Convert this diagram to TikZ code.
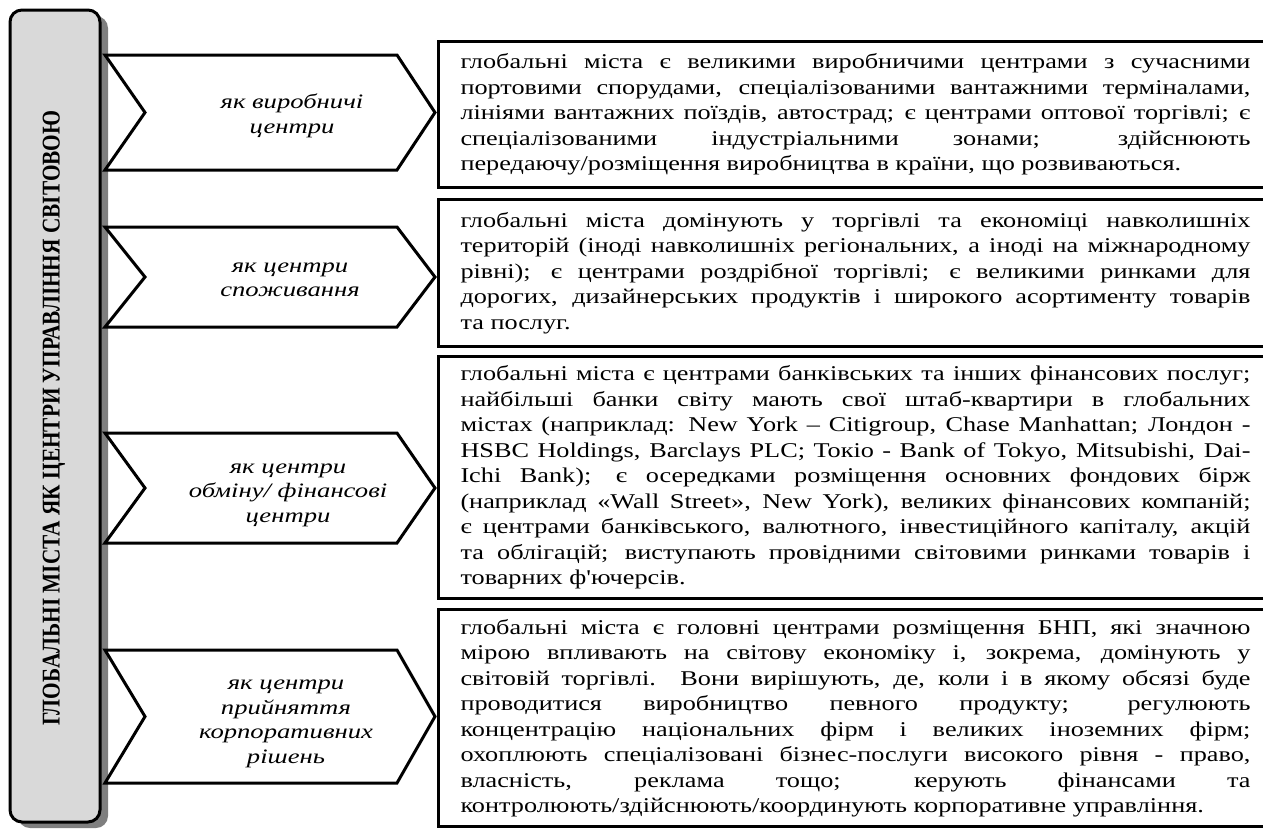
\documentclass[tikz,border=0pt]{standalone}
\usepackage{fontspec}
\setmainfont{Liberation Serif}
\newfontfamily\boxfont[FakeStretch=1.25]{Liberation Serif}
\newfontfamily\chevfont[FakeStretch=1.3]{Liberation Serif}
\usetikzlibrary {positioning}
\definecolor{bargray}{HTML}{D9D9D9}
\definecolor{shadegray}{HTML}{7F7F7F}
\hyphenpenalty=10000
\tikzset{
  chev/.style={draw, line width=3pt, fill=white, line join=miter},
  chevtext/.style={font=\chevfont\itshape\fontsize{20.5}{24.5}\selectfont, align=center},
  textbox/.style={draw, line width=3pt, fill=white, anchor=north west,
    inner xsep=22pt, inner ysep=0pt, text width=790pt, align=justify,
    font=\boxfont\fontsize{21}{25.5}\selectfont}
}

\begin{document}
\begin{tikzpicture}[x=1pt, y=-1pt]
    \useasboundingbox (0, 0) rectangle (1263, 828);
    % title bar
    \fill[shadegray, rounded corners=12pt] (18, 16) rectangle (108, 828);
    \draw[line width=3pt, fill=bargray, rounded corners=12pt] (10, 10) rectangle (100, 822);
    \node[rotate=90, font=\bfseries\fontsize{21.3}{22}\selectfont] (title) at (54, 418)
        {\scalebox{1}[1.2]{ГЛОБАЛЬНІ МІСТА ЯК ЦЕНТРИ УПРАВЛІННЯ СВІТОВОЮ}};
    % chevrons
    % 1.
    \draw[chev] (105, 55) -- (397, 55) -- (435, 112.5) -- (397, 170) -- (105, 170) -- (145, 112.5) -- cycle;
    \node[chevtext] (prod) at (292, 116) {як виробничі\\центри};
    % 2.
    \draw[chev] (105, 227) -- (397, 227) -- (435, 277) -- (397, 327) -- (105, 327) -- (145, 277) -- cycle;
    \node[chevtext] (cons) at (290, 280) {як центри\\споживання};
    % 3.
    \draw[chev] (105, 433) -- (397, 433) -- (435, 488) -- (397, 543) -- (105, 543) -- (145, 488) -- cycle;
    \node[chevtext] (fin) at (288, 495) {як центри\\обміну/ фінансові\\центри};
    % 4.
    \draw[chev] (105, 650) -- (397, 650) -- (435, 716.5) -- (397, 783) -- (105, 783) -- (145, 716.5) -- cycle;
    \node[chevtext] (corp) at (286, 724) {як центри\\прийняття\\корпоративних\\рішень};
    % text boxes
    \node[textbox, minimum height=146pt] (prodtext) at (437, 40)
        {глобальні міста є великими виробничими центрами з сучасними\linebreak
         портовими спорудами, спеціалізованими вантажними терміналами,\linebreak
         лініями вантажних поїздів, автострад; є центрами оптової торгівлі; є\linebreak
         спеціалізованими індустріальними зонами; здійснюють\linebreak
         передаючу/розміщення виробництва в країни, що розвиваються.};
    \node[textbox, minimum height=147pt] (constext) at (437, 198)
        {глобальні міста домінують у торгівлі та економіці навколишніх\linebreak
         територій (іноді навколишніх регіональних, а іноді на міжнародному\linebreak
         рівні); є центрами роздрібної торгівлі; є великими ринками для\linebreak
         дорогих, дизайнерських продуктів і широкого асортименту товарів\linebreak
         та послуг.};
    \node[textbox, minimum height=242pt] (fintext) at (437, 355)
        {глобальні міста є центрами банківських та інших фінансових послуг;\linebreak
         найбільші банки світу мають свої штаб-квартири в глобальних\linebreak
         містах (наприклад: New York – Citigroup, Chase Manhattan; Лондон -\linebreak
         HSBC Holdings, Barclays PLC; Токіо - Bank of Tokyo, Mitsubishi, Dai-\linebreak
         Ichi Bank); є осередками розміщення основних фондових бірж\linebreak
         (наприклад «Wall Street», New York), великих фінансових компаній;\linebreak
         є центрами банківського, валютного, інвестиційного капіталу, акцій\linebreak
         та облігацій; виступають провідними світовими ринками товарів і\linebreak
         товарних ф'ючерсів.};
    \node[textbox, minimum height=217pt] (corptext) at (437, 608)
        {глобальні міста є головні центрами розміщення БНП, які значною\linebreak
         мірою впливають на світову економіку і, зокрема, домінують у\linebreak
         світовій торгівлі. Вони вирішують, де, коли і в якому обсязі буде\linebreak
         проводитися виробництво певного продукту; регулюють\linebreak
         концентрацію національних фірм і великих іноземних фірм;\linebreak
         охоплюють спеціалізовані бізнес-послуги високого рівня - право,\linebreak
         власність, реклама тощо; керують фінансами та\linebreak
         контролюють/здійснюють/координують корпоративне управління.};
\end{tikzpicture}
\end{document}
